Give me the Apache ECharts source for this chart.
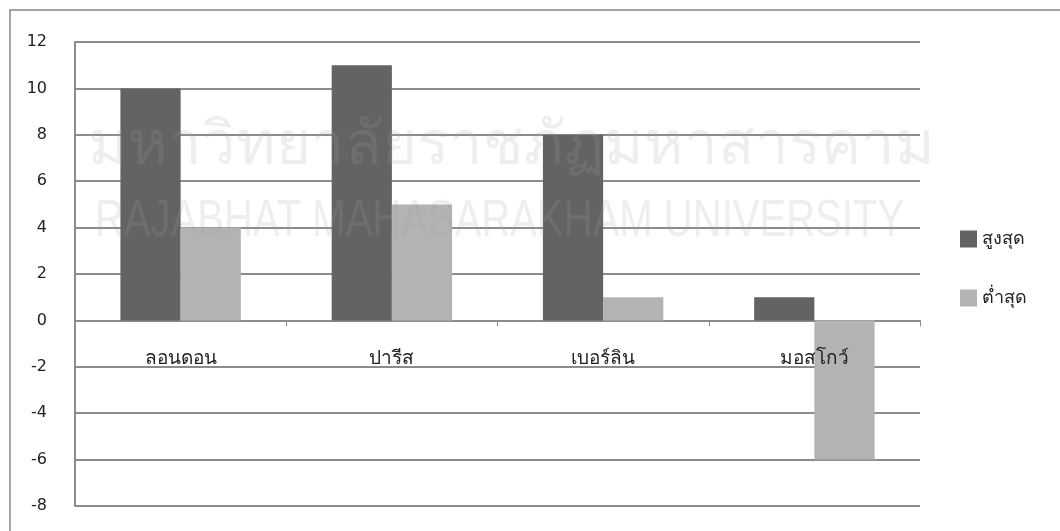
<!DOCTYPE html>
<html>
<head>
<meta charset="utf-8">
<script src="https://cdn.jsdelivr.net/npm/echarts@6/dist/echarts.min.js"></script>
<style>
  html, body { margin: 0; padding: 0; background: #fff; }
  #chart { width: 1060px; height: 531px; }
</style>
</head>
<body>
<div id="chart"></div>
<script>
// ข้อมูลจากกราฟ
const cities = ['ลอนดอน', 'ปารีส', 'เบอร์ลิน', 'มอสโกว์'];
const highs = [10, 11, 8, 1];
const lows = [4, 5, 1, -6];
const seriesNames = ['สูงสุด', 'ต่ำสุด'];
const yTicks = [-8, -6, -4, -2, 0, 2, 4, 6, 8, 10, 12];

const FONT = "'DejaVu Sans', 'Noto Sans', sans-serif";

const chart = echarts.init(document.getElementById('chart'));

chart.setOption({
    animation: false,
    backgroundColor: '#fff',
    textStyle: { fontFamily: FONT },
    grid: { left: 75, right: 140, top: 42, bottom: 25, containLabel: false, outerBoundsMode: 'none' },
    legend: {
        orient: 'vertical',
        left: 955,
        top: 225,
        itemWidth: 17,
        itemHeight: 17,
        itemGap: 41,
        icon: 'rect',
        textStyle: { fontSize: 18, color: '#222', fontFamily: FONT },
        data: seriesNames
    },
    xAxis: [
        {
            // เส้นแกนที่ 0 พร้อมขีด
            type: 'category',
            data: cities,
            axisLine: { onZero: true, lineStyle: { color: '#8c8c8c', width: 2 } },
            axisTick: { show: true, length: 6, lineStyle: { color: '#8c8c8c' } },
            axisLabel: { show: false },
            splitLine: { show: false }
        },
        {
            // ป้ายชื่อเมืองใต้เส้น 0
            type: 'category',
            data: cities,
            position: 'bottom',
            offset: -160,
            z: 20,
            axisLine: { show: false },
            axisTick: { show: false },
            axisLabel: { margin: 4, fontSize: 19, color: '#222', fontFamily: FONT },
            splitLine: { show: false }
        }
    ],
    yAxis: {
        type: 'value',
        min: yTicks[0],
        max: yTicks[yTicks.length - 1],
        interval: 2,
        axisLine: { show: true, lineStyle: { color: '#8c8c8c', width: 2 } },
        axisTick: { show: false },
        axisLabel: { margin: 28, fontSize: 16, color: '#222', fontFamily: FONT },
        splitLine: { lineStyle: { color: '#8c8c8c', width: 2 } }
    },
    series: [
        {
            name: seriesNames[0],
            type: 'bar',
            data: highs,
            barGap: '0%',
            barCategoryGap: '43%',
            itemStyle: { color: '#636363' }
        },
        {
            name: seriesNames[1],
            type: 'bar',
            data: lows,
            itemStyle: { color: '#b3b3b3' }
        }
    ],
    graphic: [
        {
            type: 'rect',
            z: -10,
            shape: { x: 10, y: 10, width: 1100, height: 600 },
            style: { fill: 'none', stroke: '#888', lineWidth: 1.5 }
        },
        {
            type: 'text',
            z: 100,
            x: 88,
            y: 118,
            silent: true,
            style: {
                text: 'มหาวิทยาลัยราชภัฏมหาสารคาม',
                font: "60px " + FONT,
                fill: 'rgba(160,160,160,0.18)'
            }
        },
        {
            type: 'text',
            z: 100,
            x: 95,
            y: 196,
            scaleX: 0.77,
            silent: true,
            style: {
                text: 'RAJABHAT MAHASARAKHAM UNIVERSITY',
                font: "52px 'Liberation Sans', sans-serif",
                fill: 'rgba(160,160,160,0.18)'
            }
        }
    ]
});
</script>
</body>
</html>
